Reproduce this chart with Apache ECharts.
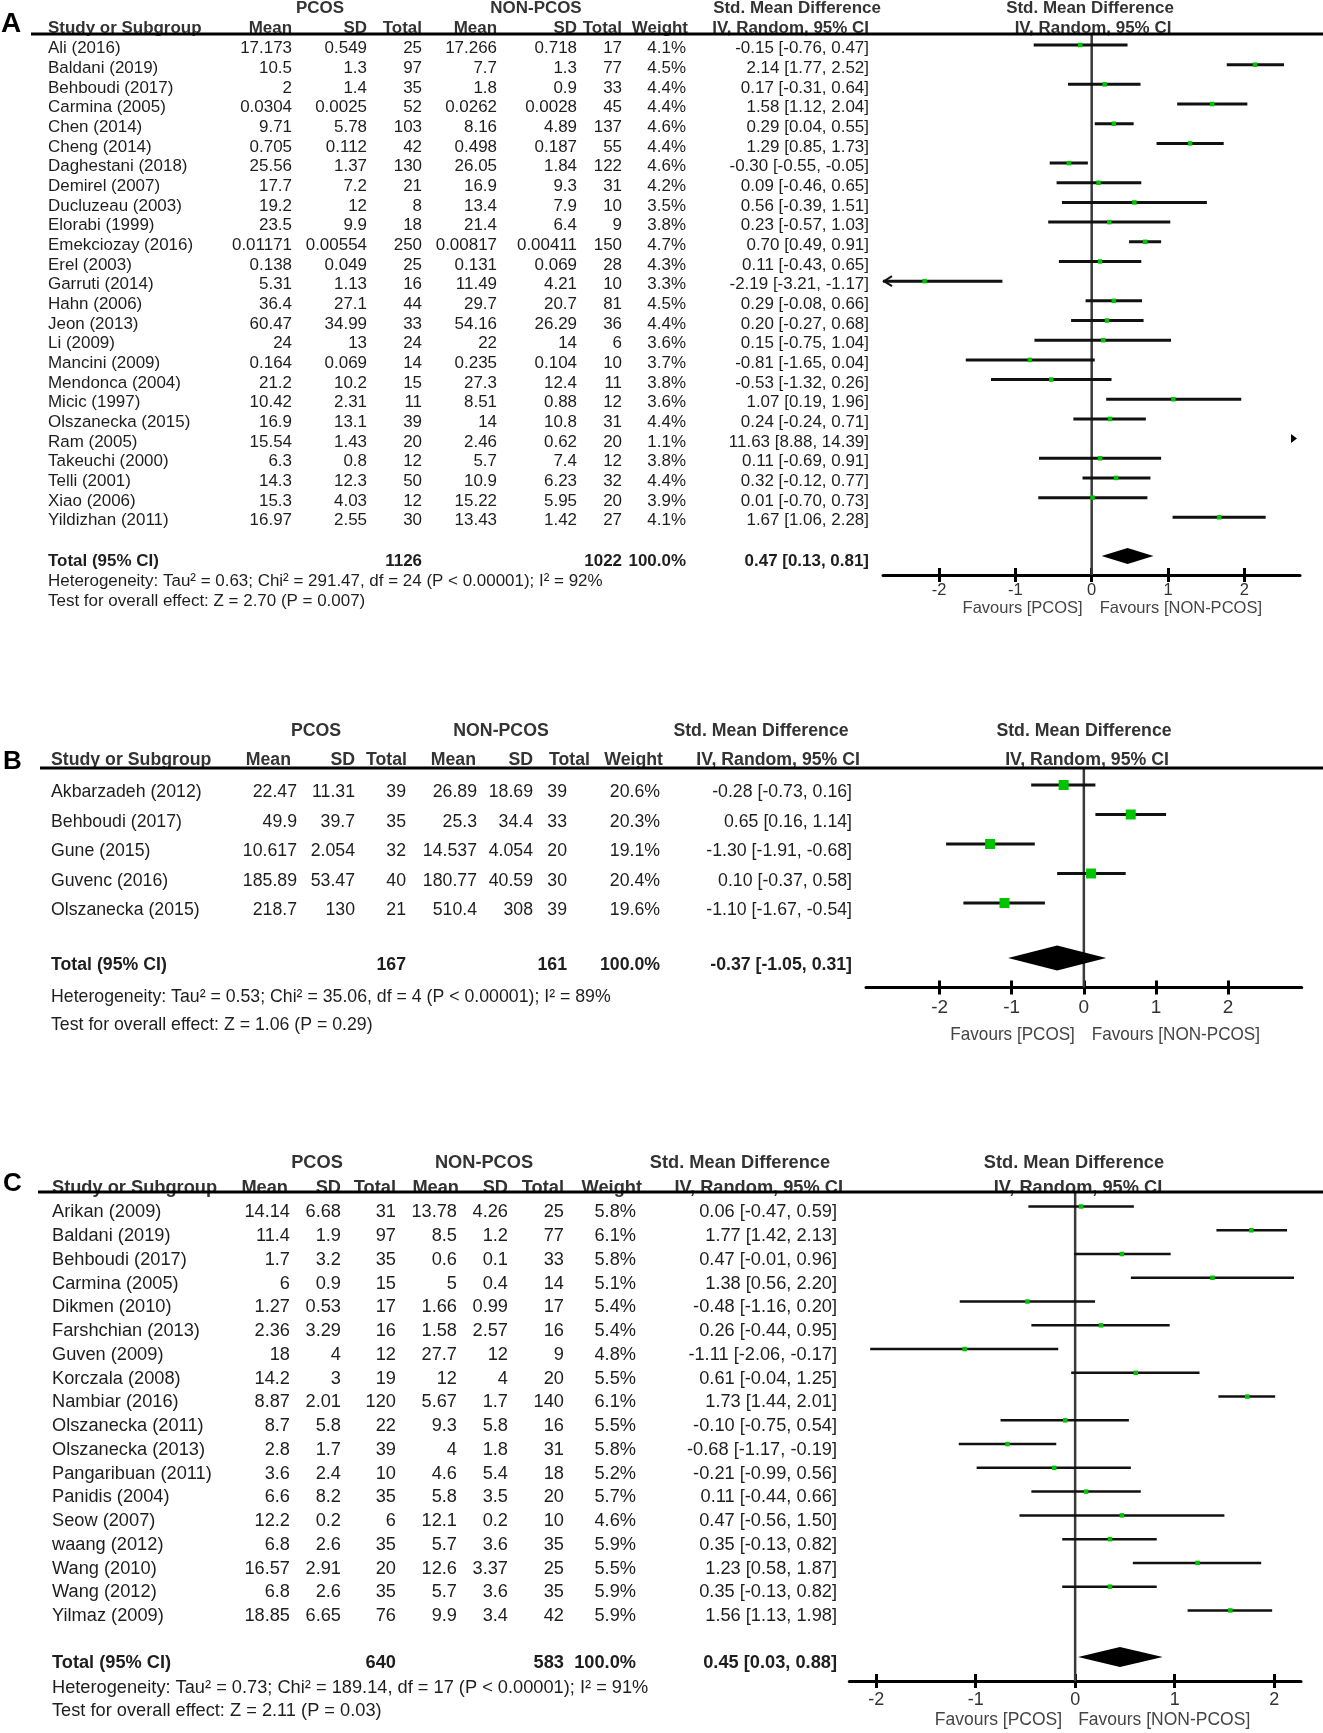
<!DOCTYPE html>
<html><head><meta charset="utf-8">
<script src="https://cdn.jsdelivr.net/npm/echarts@6.0.0/dist/echarts.min.js"></script>
<style>html,body{margin:0;padding:0;background:#fff}#c{width:1323px;height:1733px}</style>
</head><body><div id="c"></div>
<script>
// ---------------- Panel A data ----------------
const studiesA = ['Ali (2016)','Baldani (2019)','Behboudi (2017)','Carmina (2005)','Chen (2014)','Cheng (2014)','Daghestani (2018)','Demirel (2007)','Ducluzeau (2003)','Elorabi (1999)','Emekciozay (2016)','Erel (2003)','Garruti (2014)','Hahn (2006)','Jeon (2013)','Li (2009)','Mancini (2009)','Mendonca (2004)','Micic (1997)','Olszanecka (2015)','Ram (2005)','Takeuchi (2000)','Telli (2001)','Xiao (2006)','Yildizhan (2011)'];
const pcosMeanA = [17.173,10.5,2,0.0304,9.71,0.705,25.56,17.7,19.2,23.5,0.01171,0.138,5.31,36.4,60.47,24,0.164,21.2,10.42,16.9,15.54,6.3,14.3,15.3,16.97];
const pcosSDA = [0.549,1.3,1.4,0.0025,5.78,0.112,1.37,7.2,12,9.9,0.00554,0.049,1.13,27.1,34.99,13,0.069,10.2,2.31,13.1,1.43,0.8,12.3,4.03,2.55];
const pcosNA = [25,97,35,52,103,42,130,21,8,18,250,25,16,44,33,24,14,15,11,39,20,12,50,12,30];
const nonMeanA = [17.266,7.7,1.8,0.0262,8.16,0.498,26.05,16.9,13.4,21.4,0.00817,0.131,11.49,29.7,54.16,22,0.235,27.3,8.51,14,2.46,5.7,10.9,15.22,13.43];
const nonSDA = [0.718,1.3,0.9,0.0028,4.89,0.187,1.84,9.3,7.9,6.4,0.00411,0.069,4.21,20.7,26.29,14,0.104,12.4,0.88,10.8,0.62,7.4,6.23,5.95,1.42];
const nonNA = [17,77,33,45,137,55,122,31,10,9,150,28,10,81,36,6,10,11,12,31,20,12,32,20,27];
const weightA = [4.1,4.5,4.4,4.4,4.6,4.4,4.6,4.2,3.5,3.8,4.7,4.3,3.3,4.5,4.4,3.6,3.7,3.8,3.6,4.4,1.1,3.8,4.4,3.9,4.1];
const smdA = [-0.15,2.14,0.17,1.58,0.29,1.29,-0.30,0.09,0.56,0.23,0.70,0.11,-2.19,0.29,0.20,0.15,-0.81,-0.53,1.07,0.24,11.63,0.11,0.32,0.01,1.67];
const lowA = [-0.76,1.77,-0.31,1.12,0.04,0.85,-0.55,-0.46,-0.39,-0.57,0.49,-0.43,-3.21,-0.08,-0.27,-0.75,-1.65,-1.32,0.19,-0.24,8.88,-0.69,-0.12,-0.70,1.06];
const highA = [0.47,2.52,0.64,2.04,0.55,1.73,-0.05,0.65,1.51,1.03,0.91,0.65,-1.17,0.66,0.68,1.04,0.04,0.26,1.96,0.71,14.39,0.91,0.77,0.73,2.28];
const totalNA = [1126, 1022];
const totalEffA = [0.47, 0.13, 0.81];
const hetA = 'Heterogeneity: Tau² = 0.63; Chi² = 291.47, df = 24 (P < 0.00001); I² = 92%';
const testA = 'Test for overall effect: Z = 2.70 (P = 0.007)';

// ---------------- Panel B data ----------------
const studiesB = ['Akbarzadeh (2012)','Behboudi (2017)','Gune (2015)','Guvenc (2016)','Olszanecka (2015)'];
const pcosMeanB = [22.47,49.9,10.617,185.89,218.7];
const pcosSDB = [11.31,39.7,2.054,53.47,130];
const pcosNB = [39,35,32,40,21];
const nonMeanB = [26.89,25.3,14.537,180.77,510.4];
const nonSDB = [18.69,34.4,4.054,40.59,308];
const nonNB = [39,33,20,30,39];
const weightB = [20.6,20.3,19.1,20.4,19.6];
const smdB = [-0.28,0.65,-1.30,0.10,-1.10];
const lowB = [-0.73,0.16,-1.91,-0.37,-1.67];
const highB = [0.16,1.14,-0.68,0.58,-0.54];
const totalNB = [167, 161];
const totalEffB = [-0.37, -1.05, 0.31];
const hetB = 'Heterogeneity: Tau² = 0.53; Chi² = 35.06, df = 4 (P < 0.00001); I² = 89%';
const testB = 'Test for overall effect: Z = 1.06 (P = 0.29)';

// ---------------- Panel C data ----------------
const studiesC = ['Arikan (2009)','Baldani (2019)','Behboudi (2017)','Carmina (2005)','Dikmen (2010)','Farshchian (2013)','Guven (2009)','Korczala (2008)','Nambiar (2016)','Olszanecka (2011)','Olszanecka (2013)','Pangaribuan (2011)','Panidis (2004)','Seow (2007)','waang (2012)','Wang (2010)','Wang (2012)','Yilmaz (2009)'];
const pcosMeanC = [14.14,11.4,1.7,6,1.27,2.36,18,14.2,8.87,8.7,2.8,3.6,6.6,12.2,6.8,16.57,6.8,18.85];
const pcosSDC = [6.68,1.9,3.2,0.9,0.53,3.29,4,3,2.01,5.8,1.7,2.4,8.2,0.2,2.6,2.91,2.6,6.65];
const pcosNC = [31,97,35,15,17,16,12,19,120,22,39,10,35,6,35,20,35,76];
const nonMeanC = [13.78,8.5,0.6,5,1.66,1.58,27.7,12,5.67,9.3,4,4.6,5.8,12.1,5.7,12.6,5.7,9.9];
const nonSDC = [4.26,1.2,0.1,0.4,0.99,2.57,12,4,1.7,5.8,1.8,5.4,3.5,0.2,3.6,3.37,3.6,3.4];
const nonNC = [25,77,33,14,17,16,9,20,140,16,31,18,20,10,35,25,35,42];
const weightC = [5.8,6.1,5.8,5.1,5.4,5.4,4.8,5.5,6.1,5.5,5.8,5.2,5.7,4.6,5.9,5.5,5.9,5.9];
const smdC = [0.06,1.77,0.47,1.38,-0.48,0.26,-1.11,0.61,1.73,-0.10,-0.68,-0.21,0.11,0.47,0.35,1.23,0.35,1.56];
const lowC = [-0.47,1.42,-0.01,0.56,-1.16,-0.44,-2.06,-0.04,1.44,-0.75,-1.17,-0.99,-0.44,-0.56,-0.13,0.58,-0.13,1.13];
const highC = [0.59,2.13,0.96,2.20,0.20,0.95,-0.17,1.25,2.01,0.54,-0.19,0.56,0.66,1.50,0.82,1.87,0.82,1.98];
const totalNC = [640, 583];
const totalEffC = [0.45, 0.03, 0.88];
const hetC = 'Heterogeneity: Tau² = 0.73; Chi² = 189.14, df = 17 (P < 0.00001); I² = 91%';
const testC = 'Test for overall effect: Z = 2.11 (P = 0.03)';

const axisTicks = [-2, -1, 0, 1, 2];
const totalWeight = 100.0;

// ---------------- fonts ----------------
const cv = document.createElement('canvas').getContext('2d');
const SANS = "'Liberation Sans', Arial, Helvetica, sans-serif";
function fitSize(text, fam, target){ cv.font = '100px ' + fam; return 100*target/cv.measureText(text).width; }

// ---------------- layout (pixels) ----------------
const LA = { fam:SANS, sx:1, fitW:555, row0:45, step:19.68, textDy:3.5, totalY:556, totalDy:5, top:34, axisY:575, left:883, right:23, xmin:-2.735, xmax:2.73,
  nameX:48, colR:[292,367,422,497,577,622,686,869], hdrR:[292,367,422,497,577,622,688,869],
  h1Y:8, h2Y:28, pcosC:320, nonC:536, smdC:797, smd2C:1090, iv2C:1093, lineX0:31, hetY:581, testY:601,
  letter:'A', letterX:1, letterY:24, letterSize:28, axSize:16.5, axMargin:7, favY:608, favSize:16.5, favSx:1, favGapL:9, favGapR:8,
  sq:4.5, ciW:3, diaH:16, zeroW:2.5 };
const LB = { fam:SANS, sx:0.92, fitW:560, row0:785, step:29.5, textDy:7, totalY:958, totalDy:7, top:768, axisY:987.5, left:866, right:21.3, xmin:-3.02, xmax:3.02,
  nameX:51, colR:[297,355,406,477,533,567,660,852], hdrR:[291,355,407,476,533,590,663,860],
  h1Y:731, h2Y:760, pcosC:316, nonC:501, smdC:761, smd2C:1084, iv2C:1087, lineX0:40, hetY:997, testY:1025,
  letter:'B', letterX:3, letterY:762, letterSize:26, axSize:19, axMargin:11, favY:1035, favSize:19, favSx:0.9, favGapL:9, favGapR:8,
  sq:10, ciW:3, diaH:25, zeroW:2.5 };
const LC = { fam:SANS, sx:0.95, fitW:597, row0:1206.5, step:23.76, textDy:5.5, totalY:1657, totalDy:5.5, top:1192, axisY:1681, left:849.3, right:22, xmin:-2.27, xmax:2.27,
  nameX:52, colR:[290,341,396,457,508,564,636,837], hdrR:[288,341,396,459,508,564,642,843],
  h1Y:1163, h2Y:1188, pcosC:317, nonC:484, smdC:740, smd2C:1074, iv2C:1078, lineX0:38, hetY:1688, testY:1711,
  letter:'C', letterX:3, letterY:1184, letterSize:26, axSize:18, axMargin:10, favY:1720, favSize:17.5, favSx:1, favGapL:13, favGapR:3,
  sq:4.5, ciW:2.5, diaH:20, zeroW:2.5 };

const panels = [
  {studies:studiesA, cols:[pcosMeanA,pcosSDA,pcosNA,nonMeanA,nonSDA,nonNA], weight:weightA, smd:smdA, lo:lowA, hi:highA, totalN:totalNA, totalEff:totalEffA, het:hetA, test:testA, L:LA},
  {studies:studiesB, cols:[pcosMeanB,pcosSDB,pcosNB,nonMeanB,nonSDB,nonNB], weight:weightB, smd:smdB, lo:lowB, hi:highB, totalN:totalNB, totalEff:totalEffB, het:hetB, test:testB, L:LB},
  {studies:studiesC, cols:[pcosMeanC,pcosSDC,pcosNC,nonMeanC,nonSDC,nonNC], weight:weightC, smd:smdC, lo:lowC, hi:highC, totalN:totalNC, totalEff:totalEffC, het:hetC, test:testC, L:LC}
];

const TXT = '#1e1e1e', HDR = '#333333', GREEN = '#00c400', W = 1323;
const f2 = v => v.toFixed(2);
function txt(text, x, y, size, fam, align, bold, color, sx){
  return {type:'text', silent:true, x, y, scaleX: sx||1, scaleY:1,
    style:{text, x:0, y:0, fontSize:size, fontFamily:fam, fontWeight:bold?'bold':'normal',
    fill:color||TXT, align, textAlign:align, verticalAlign:'middle', textVerticalAlign:'middle'}};
}

const grid = [], xAxis = [], yAxis = [], series = [], graphic = [];
panels.forEach((P, k) => {
  const L = P.L;
  P.fs = fitSize(P.het, L.fam, L.fitW) / L.sx;
  const yMin = (L.top - L.row0)/L.step, yMax = (L.axisY - L.row0)/L.step;
  const totalIdx = (L.totalY - L.row0)/L.step;
  grid.push({left:L.left, right:L.right, top:L.top, height:L.axisY-L.top, outerBoundsMode:'none', containLabel:false});
  yAxis.push({gridIndex:k, type:'value', inverse:true, min:yMin, max:yMax, show:false});
  xAxis.push({gridIndex:k, type:'value', min:L.xmin, max:L.xmax, position:'bottom',
    axisLine:{show:true, onZero:false, lineStyle:{color:'#000', width:3}},
    axisTick:{show:true, customValues:axisTicks, length:7, lineStyle:{color:'#000', width:3}},
    axisLabel:{show:true, customValues:axisTicks, margin:L.axMargin, fontSize:L.axSize, fontFamily:SANS, color:'#333'},
    splitLine:{show:false}});
  xAxis.push({gridIndex:k, type:'value', min:L.xmin, max:L.xmax, position:'bottom', offset:0,
    axisLine:{show:false, onZero:false},
    axisTick:{show:true, inside:true, customValues:axisTicks, length:7, lineStyle:{color:'#000', width:3}},
    axisLabel:{show:false}, splitLine:{show:false}});
  const xi = 2*k;
  // zero reference line
  series.push({type:'line', xAxisIndex:xi, yAxisIndex:k, data:[[0,yMin],[0,yMax]], symbol:'none', silent:true, z:1,
    lineStyle:{color:'#3a3a3a', width:L.zeroW}, animation:false});
  // table rows (text rows follow the same row axis, with a small text offset)
  const tableData = P.studies.map((s,i)=>[0,i]).concat([[0,totalIdx]]);
  series.push({type:'custom', xAxisIndex:xi, yAxisIndex:k, data:tableData, encode:{x:0,y:1}, clip:false, silent:true, animation:false,
    renderItem:(params, api) => {
      const i = params.dataIndex;
      const isTotal = i >= P.studies.length;
      const y = api.coord([0, api.value(1)])[1] + (isTotal ? L.totalDy : L.textDy);
      const ch = [];
      const T = (s, x, al, b) => ch.push(txt(s, x, y, P.fs, L.fam, al, b, TXT, L.sx));
      if (!isTotal) {
        T(P.studies[i], L.nameX, 'left');
        P.cols.forEach((arr,c)=> T(String(arr[i]), L.colR[c], 'right'));
        T(P.weight[i].toFixed(1)+'%', L.colR[6], 'right');
        T(f2(P.smd[i])+' ['+f2(P.lo[i])+', '+f2(P.hi[i])+']', L.colR[7], 'right');
      } else {
        T('Total (95% CI)', L.nameX, 'left', true);
        T(String(P.totalN[0]), L.colR[2], 'right', true);
        T(String(P.totalN[1]), L.colR[5], 'right', true);
        T(totalWeight.toFixed(1)+'%', L.colR[6], 'right', true);
        T(f2(P.totalEff[0])+' ['+f2(P.totalEff[1])+', '+f2(P.totalEff[2])+']', L.colR[7], 'right', true);
      }
      return {type:'group', children:ch};
    }});
  // CI lines + squares
  const forestData = P.studies.map((s,i)=>[i, P.smd[i], P.lo[i], P.hi[i]]);
  series.push({type:'custom', xAxisIndex:xi, yAxisIndex:k, data:forestData, encode:{x:1,y:0}, clip:false, silent:true, animation:false, z:3,
    renderItem:(params, api) => {
      const row = api.value(0), est = api.value(1), lo = api.value(2), hi = api.value(3);
      const y = api.coord([0,row])[1];
      const ch = [];
      if (lo > L.xmax) {
        const tx = api.coord([L.xmax,row])[0] - 3;
        ch.push({type:'polygon', shape:{points:[[tx,y],[tx-6,y-4.5],[tx-6,y+4.5]]}, style:{fill:'#000'}});
        return {type:'group', children:ch};
      }
      const x1 = api.coord([Math.max(lo,L.xmin),row])[0], x2 = api.coord([Math.min(hi,L.xmax),row])[0];
      ch.push({type:'line', shape:{x1, y1:y, x2, y2:y}, style:{stroke:'#111', lineWidth:L.ciW}});
      if (lo < L.xmin) ch.push({type:'polyline', shape:{points:[[x1+9,y-5],[x1+1,y],[x1+9,y+5]]}, style:{stroke:'#111', lineWidth:2, fill:null}});
      if (est >= L.xmin && est <= L.xmax) {
        const xe = api.coord([est,row])[0];
        ch.push({type:'rect', shape:{x:xe-L.sq/2, y:y-L.sq/2, width:L.sq, height:L.sq}, style:{fill:GREEN}});
      }
      return {type:'group', children:ch};
    }});
  // pooled diamond
  series.push({type:'custom', xAxisIndex:xi, yAxisIndex:k, data:[[totalIdx, P.totalEff[0], P.totalEff[1], P.totalEff[2]]], encode:{x:1,y:0}, clip:false, silent:true, animation:false, z:3,
    renderItem:(params, api) => {
      const row = api.value(0);
      const c = api.coord([api.value(1),row]), a = api.coord([api.value(2),row]), b = api.coord([api.value(3),row]);
      return {type:'polygon', shape:{points:[[a[0],c[1]],[c[0],c[1]-L.diaH/2],[b[0],c[1]],[c[0],c[1]+L.diaH/2]]}, style:{fill:'#000'}};
    }});
  // headers & annotations
  const hb = (t,x,y,al)=>graphic.push(txt(t,x,y,P.fs,L.fam,al,true,HDR,L.sx));
  hb('PCOS', L.pcosC, L.h1Y, 'center');
  hb('NON-PCOS', L.nonC, L.h1Y, 'center');
  hb('Std. Mean Difference', L.smdC, L.h1Y, 'center');
  hb('Std. Mean Difference', L.smd2C, L.h1Y, 'center');
  hb('Study or Subgroup', L.nameX, L.h2Y, 'left');
  ['Mean','SD','Total','Mean','SD','Total','Weight','IV, Random, 95% CI'].forEach((t,c)=>hb(t, L.hdrR[c], L.h2Y, 'right'));
  hb('IV, Random, 95% CI', L.iv2C, L.h2Y, 'center');
  graphic.push({type:'line', silent:true, z:10, shape:{x1:L.lineX0, y1:L.top, x2:W, y2:L.top}, style:{stroke:'#000', lineWidth:3}});
  graphic.push(txt(P.het, L.nameX, L.hetY, P.fs, L.fam, 'left', false, TXT, L.sx));
  graphic.push(txt(P.test, L.nameX, L.testY, P.fs, L.fam, 'left', false, TXT, L.sx));
  const zeroX = L.left + (0-L.xmin)/(L.xmax-L.xmin)*(W-L.left-L.right);
  graphic.push(txt('Favours [PCOS]', zeroX-L.favGapL, L.favY, L.favSize, SANS, 'right', false, '#444', L.favSx));
  graphic.push(txt('Favours [NON-PCOS]', zeroX+L.favGapR, L.favY, L.favSize, SANS, 'left', false, '#444', L.favSx));
  graphic.push(txt(L.letter, L.letterX, L.letterY, L.letterSize, SANS, 'left', true, '#000'));
});

const chart = echarts.init(document.getElementById('c'), null, {renderer:'canvas'});
chart.setOption({animation:false, backgroundColor:'#fff', grid, xAxis, yAxis, series, graphic});
</script></body></html>
